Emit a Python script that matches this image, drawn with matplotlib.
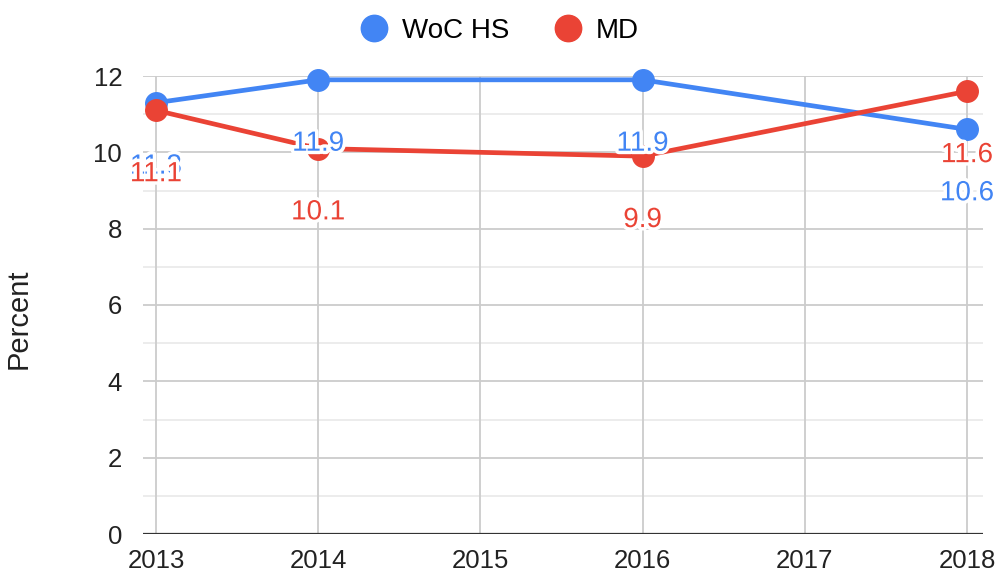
import matplotlib
matplotlib.use("Agg")
import matplotlib.pyplot as plt
import matplotlib.patheffects as pe
from matplotlib.lines import Line2D

plt.rcParams['font.family'] = ['Liberation Sans', 'DejaVu Sans']

years = [2013, 2014, 2016, 2018]
woc_hs = [11.3, 11.9, 11.9, 10.6]
md = [11.1, 10.1, 9.9, 11.6]
series_names = ["WoC HS", "MD"]
x_ticks = [2013, 2014, 2015, 2016, 2017, 2018]
y_ticks = [0, 2, 4, 6, 8, 10, 12]

BLUE = "#4285F4"
RED = "#EA4335"

fig = plt.figure(figsize=(9.99, 5.78), dpi=100)
ax = fig.add_axes([143/999, 1 - 534/578, (983 - 143)/999, (534 - 76)/578])

ax.set_xlim(2013 - 13/162.2, 2018 + 16/162.2)
ax.set_ylim(0, 12)

# grid: light minor lines every unit, darker majors every 2
for y in range(1, 12, 2):
    ax.axhline(y, color="#ebebeb", lw=1.3, zorder=0)
for y in y_ticks[1:]:
    ax.axhline(y, color="#cccccc", lw=1.3, zorder=0)
for x in x_ticks:
    ax.axvline(x, color="#cccccc", lw=1.3, zorder=0)
ax.axhline(0, color="#333333", lw=1.6, zorder=1)

for s in ax.spines.values():
    s.set_visible(False)

ax.set_xticks(x_ticks)
ax.set_xticklabels([str(t) for t in x_ticks])
ax.set_yticks(y_ticks)
ax.set_yticklabels([str(t) for t in y_ticks])
ax.tick_params(length=0, labelsize=18.5, colors="#222222")
ax.tick_params(axis="y", pad=15)
ax.tick_params(axis="x", pad=11)

ax.set_ylabel("Percent", fontsize=21, color="#222222")
ax.yaxis.set_label_coords(-0.131, 0.469)

ax.plot(years, woc_hs, color=BLUE, lw=3.4, marker="o", ms=15.5, zorder=3, clip_on=False)
ax.plot(years, md, color=RED, lw=3.4, marker="o", ms=15.5, zorder=3, clip_on=False)

halo = [pe.withStroke(linewidth=5, foreground="white")]
for vals, col, z in ((woc_hs, BLUE, 5), (md, RED, 6)):
    for x, v in zip(years, vals):
        ax.annotate(f"{v:.1f}", (x, v), xytext=(0, -46), textcoords="offset points",
                    ha="center", va="center", fontsize=20, color=col,
                    path_effects=halo, zorder=z, annotation_clip=False)

handles = [Line2D([], [], ls="none", marker="o", ms=19, color=c) for c in (BLUE, RED)]
fig.legend(handles, series_names, loc="upper center", bbox_to_anchor=(0.5, 1.012), ncol=2,
           frameon=False, fontsize=20, handletextpad=0.5, columnspacing=1.6,
           handlelength=1.0)

fig.savefig("out.png", dpi=100)
